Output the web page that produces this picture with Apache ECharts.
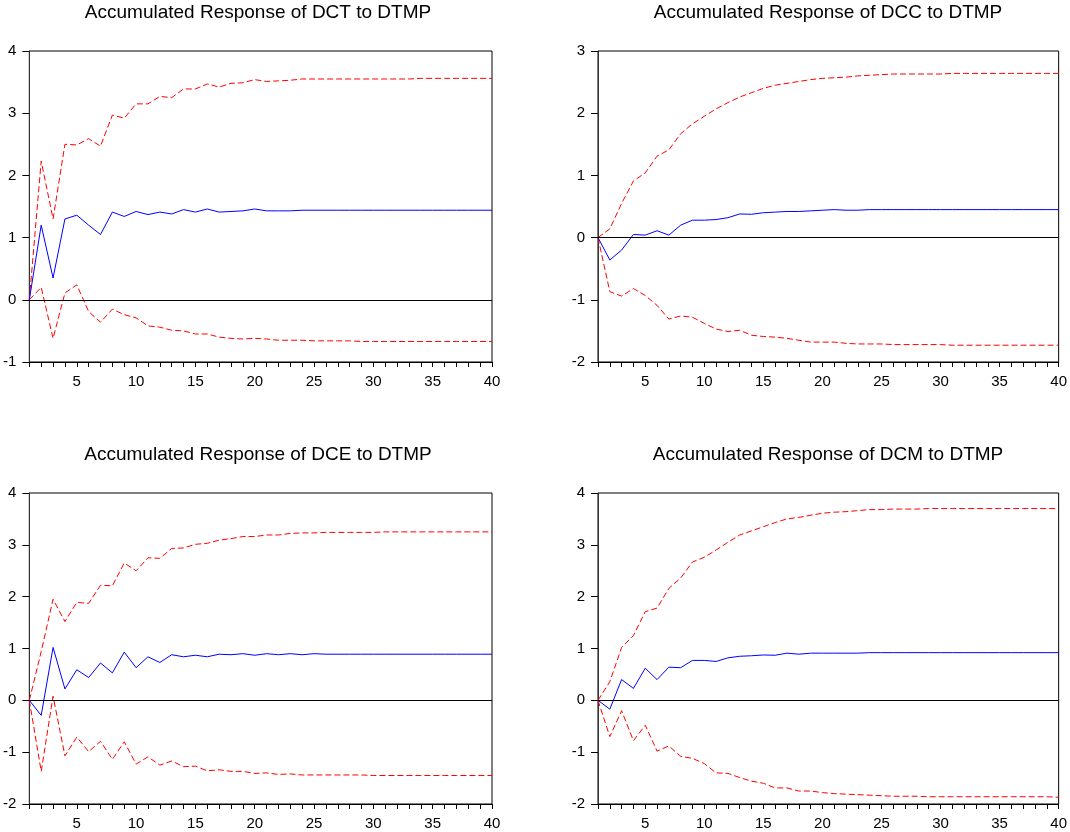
<!DOCTYPE html>
<html>
<head>
<meta charset="utf-8">
<script src="https://cdn.jsdelivr.net/npm/echarts@6/dist/echarts.min.js"></script>
<style>
html,body{margin:0;padding:0;background:#fff;}
#chart{width:1070px;height:832px;}
</style>
</head>
<body>
<div id="chart"></div>
<script>
// ---- data ----
var periods = [1,2,3,4,5,6,7,8,9,10,11,12,13,14,15,16,17,18,19,20,21,22,23,24,25,26,27,28,29,30,31,32,33,34,35,36,37,38,39,40];
var xTickLabels = [5,10,15,20,25,30,35,40];

var titles = [
  "Accumulated Response of DCT to DTMP",
  "Accumulated Response of DCC to DTMP",
  "Accumulated Response of DCE to DTMP",
  "Accumulated Response of DCM to DTMP"
];

// DCT
var dctResp  = [0,1.20,0.35,1.30,1.36,1.20,1.05,1.41,1.34,1.42,1.37,1.41,1.38,1.45,1.41,1.46,1.41,1.42,1.43,1.46,1.43,1.43,1.43,1.44,1.44,1.44,1.44,1.44,1.44,1.44,1.44,1.44,1.44,1.44,1.44,1.44,1.44,1.44,1.44,1.44];
var dctUpper = [0,2.23,1.30,2.50,2.49,2.59,2.47,2.97,2.92,3.15,3.15,3.27,3.25,3.39,3.39,3.47,3.42,3.48,3.49,3.54,3.51,3.52,3.53,3.55,3.55,3.55,3.55,3.55,3.55,3.55,3.55,3.55,3.55,3.56,3.56,3.56,3.56,3.56,3.56,3.56];
var dctLower = [0,0.20,-0.62,0.11,0.24,-0.19,-0.36,-0.15,-0.24,-0.29,-0.42,-0.44,-0.49,-0.50,-0.55,-0.55,-0.60,-0.62,-0.63,-0.62,-0.63,-0.65,-0.65,-0.65,-0.66,-0.66,-0.66,-0.66,-0.67,-0.67,-0.67,-0.67,-0.67,-0.67,-0.67,-0.67,-0.67,-0.67,-0.67,-0.67];
var dctYTicks = [-1,0,1,2,3,4];

// DCC
var dccResp  = [0,-0.36,-0.20,0.05,0.04,0.11,0.04,0.20,0.28,0.28,0.29,0.32,0.38,0.375,0.40,0.41,0.42,0.42,0.43,0.44,0.45,0.44,0.44,0.45,0.45,0.45,0.45,0.45,0.45,0.45,0.45,0.45,0.45,0.45,0.45,0.45,0.45,0.45,0.45,0.45];
var dccUpper = [0,0.14,0.55,0.91,1.04,1.31,1.41,1.67,1.83,1.95,2.07,2.17,2.26,2.33,2.40,2.45,2.48,2.51,2.54,2.56,2.57,2.58,2.60,2.61,2.62,2.63,2.63,2.63,2.63,2.63,2.64,2.64,2.64,2.64,2.64,2.64,2.64,2.64,2.64,2.64];
var dccLower = [0,-0.87,-0.94,-0.82,-0.93,-1.09,-1.31,-1.26,-1.28,-1.38,-1.47,-1.51,-1.49,-1.57,-1.59,-1.60,-1.62,-1.65,-1.68,-1.68,-1.68,-1.70,-1.71,-1.71,-1.71,-1.72,-1.72,-1.72,-1.72,-1.72,-1.73,-1.73,-1.73,-1.73,-1.73,-1.73,-1.73,-1.73,-1.73,-1.73];
var dccYTicks = [-2,-1,0,1,2,3];

// DCE
var dceResp  = [0,-0.29,1.02,0.22,0.59,0.44,0.72,0.53,0.93,0.63,0.84,0.73,0.88,0.84,0.87,0.84,0.89,0.88,0.90,0.87,0.90,0.88,0.90,0.88,0.90,0.89,0.89,0.89,0.89,0.89,0.89,0.89,0.89,0.89,0.89,0.89,0.89,0.89,0.89,0.89];
var dceUpper = [0,0.94,1.95,1.52,1.89,1.87,2.22,2.21,2.65,2.50,2.75,2.74,2.93,2.94,3.01,3.03,3.09,3.12,3.16,3.16,3.19,3.19,3.22,3.23,3.23,3.24,3.24,3.24,3.24,3.24,3.25,3.25,3.25,3.25,3.25,3.25,3.25,3.25,3.25,3.25];
var dceLower = [0,-1.37,0.08,-1.07,-0.71,-0.99,-0.79,-1.14,-0.80,-1.23,-1.09,-1.25,-1.17,-1.28,-1.27,-1.36,-1.34,-1.37,-1.37,-1.41,-1.40,-1.43,-1.42,-1.44,-1.44,-1.44,-1.44,-1.44,-1.44,-1.45,-1.45,-1.45,-1.45,-1.45,-1.45,-1.45,-1.45,-1.45,-1.45,-1.45];
var dceYTicks = [-2,-1,0,1,2,3,4];

// DCM
var dcmResp  = [0,-0.17,0.40,0.23,0.62,0.40,0.64,0.63,0.77,0.77,0.75,0.82,0.85,0.86,0.875,0.87,0.91,0.89,0.91,0.91,0.91,0.91,0.91,0.92,0.92,0.92,0.92,0.92,0.92,0.92,0.92,0.92,0.92,0.92,0.92,0.92,0.92,0.92,0.92,0.92];
var dcmUpper = [0,0.36,1.02,1.25,1.71,1.78,2.16,2.36,2.67,2.76,2.90,3.05,3.19,3.27,3.35,3.43,3.50,3.53,3.57,3.61,3.63,3.64,3.66,3.68,3.68,3.69,3.69,3.69,3.70,3.70,3.70,3.70,3.70,3.70,3.70,3.70,3.70,3.70,3.70,3.70];
var dcmLower = [0,-0.70,-0.20,-0.78,-0.48,-0.98,-0.88,-1.08,-1.12,-1.22,-1.40,-1.41,-1.49,-1.56,-1.60,-1.69,-1.69,-1.75,-1.75,-1.78,-1.80,-1.81,-1.82,-1.83,-1.84,-1.85,-1.85,-1.85,-1.86,-1.86,-1.86,-1.86,-1.86,-1.86,-1.86,-1.86,-1.86,-1.86,-1.86,-1.87];
var dcmYTicks = [-2,-1,0,1,2,3,4];

// ---- layout / styling ----
var FONT = "'Liberation Sans', Arial, sans-serif";
var panels = [
  {resp: dctResp, up: dctUpper, lo: dctLower, ticks: dctYTicks, left: 28,  top: 51},
  {resp: dccResp, up: dccUpper, lo: dccLower, ticks: dccYTicks, left: 598, top: 51},
  {resp: dceResp, up: dceUpper, lo: dceLower, ticks: dceYTicks, left: 28,  top: 493},
  {resp: dcmResp, up: dcmUpper, lo: dcmLower, ticks: dcmYTicks, left: 598, top: 493}
];
var W = 464, H = 311;

function pairs(vals){ return periods.map(function(p,i){ return [p, vals[i]]; }); }

var grids = [], xAxes = [], yAxes = [], series = [];
panels.forEach(function(pn, k){
  grids.push({left: pn.left, top: pn.top, width: W, height: H, show: true,
              borderColor: '#000', borderWidth: 1, backgroundColor: 'transparent'});
  xAxes.push({
    type: 'value', gridIndex: k, min: periods[0], max: periods[periods.length-1], interval: 1,
    axisLine: {show: true, onZero: false, lineStyle: {color: '#000', width: 1}},
    axisTick: {show: true, length: 5, lineStyle: {color: '#000'}},
    splitLine: {show: false},
    axisLabel: {margin: 12, fontSize: 15, color: '#000', fontFamily: FONT,
      formatter: function(v){ return xTickLabels.indexOf(v) >= 0 ? String(v) : ''; }}
  });
  yAxes.push({
    type: 'value', gridIndex: k, min: pn.ticks[0], max: pn.ticks[pn.ticks.length-1], interval: 1,
    axisLine: {show: true, lineStyle: {color: '#333', width: 1}},
    axisTick: {show: true, length: 7, lineStyle: {color: '#000'}},
    splitLine: {show: false},
    axisLabel: {margin: 13, fontSize: 15, color: '#000', fontFamily: FONT}
  });
  var dash = {color: '#ff0000', width: 1, type: [6, 3]};
  series.push({type: 'line', xAxisIndex: k, yAxisIndex: k, data: pairs(pn.up),
    showSymbol: false, symbol: 'none', lineStyle: dash, silent: true, z: 3});
  series.push({type: 'line', xAxisIndex: k, yAxisIndex: k, data: pairs(pn.lo),
    showSymbol: false, symbol: 'none', lineStyle: dash, silent: true, z: 3});
  series.push({type: 'line', xAxisIndex: k, yAxisIndex: k, data: pairs(pn.resp),
    showSymbol: false, symbol: 'none', lineStyle: {color: '#0000ff', width: 1}, silent: true, z: 4,
    markLine: {silent: true, symbol: 'none', label: {show: false},
      lineStyle: {color: '#000', width: 1, type: 'solid'}, data: [{yAxis: 0}]}});
});

var chart = echarts.init(document.getElementById('chart'), null, {renderer: 'canvas'});
chart.setOption({
  animation: false,
  backgroundColor: '#fff',
  grid: grids, xAxis: xAxes, yAxis: yAxes, series: series,
  graphic: panels.map(function(pn, k){
    return {type: 'text', x: pn.left + W/2 - 2, y: pn.top - 38,
      style: {text: titles[k], fontSize: 19, fontFamily: FONT, fill: '#000', align: 'center', verticalAlign: 'middle'}};
  })
});
</script>
</body>
</html>
